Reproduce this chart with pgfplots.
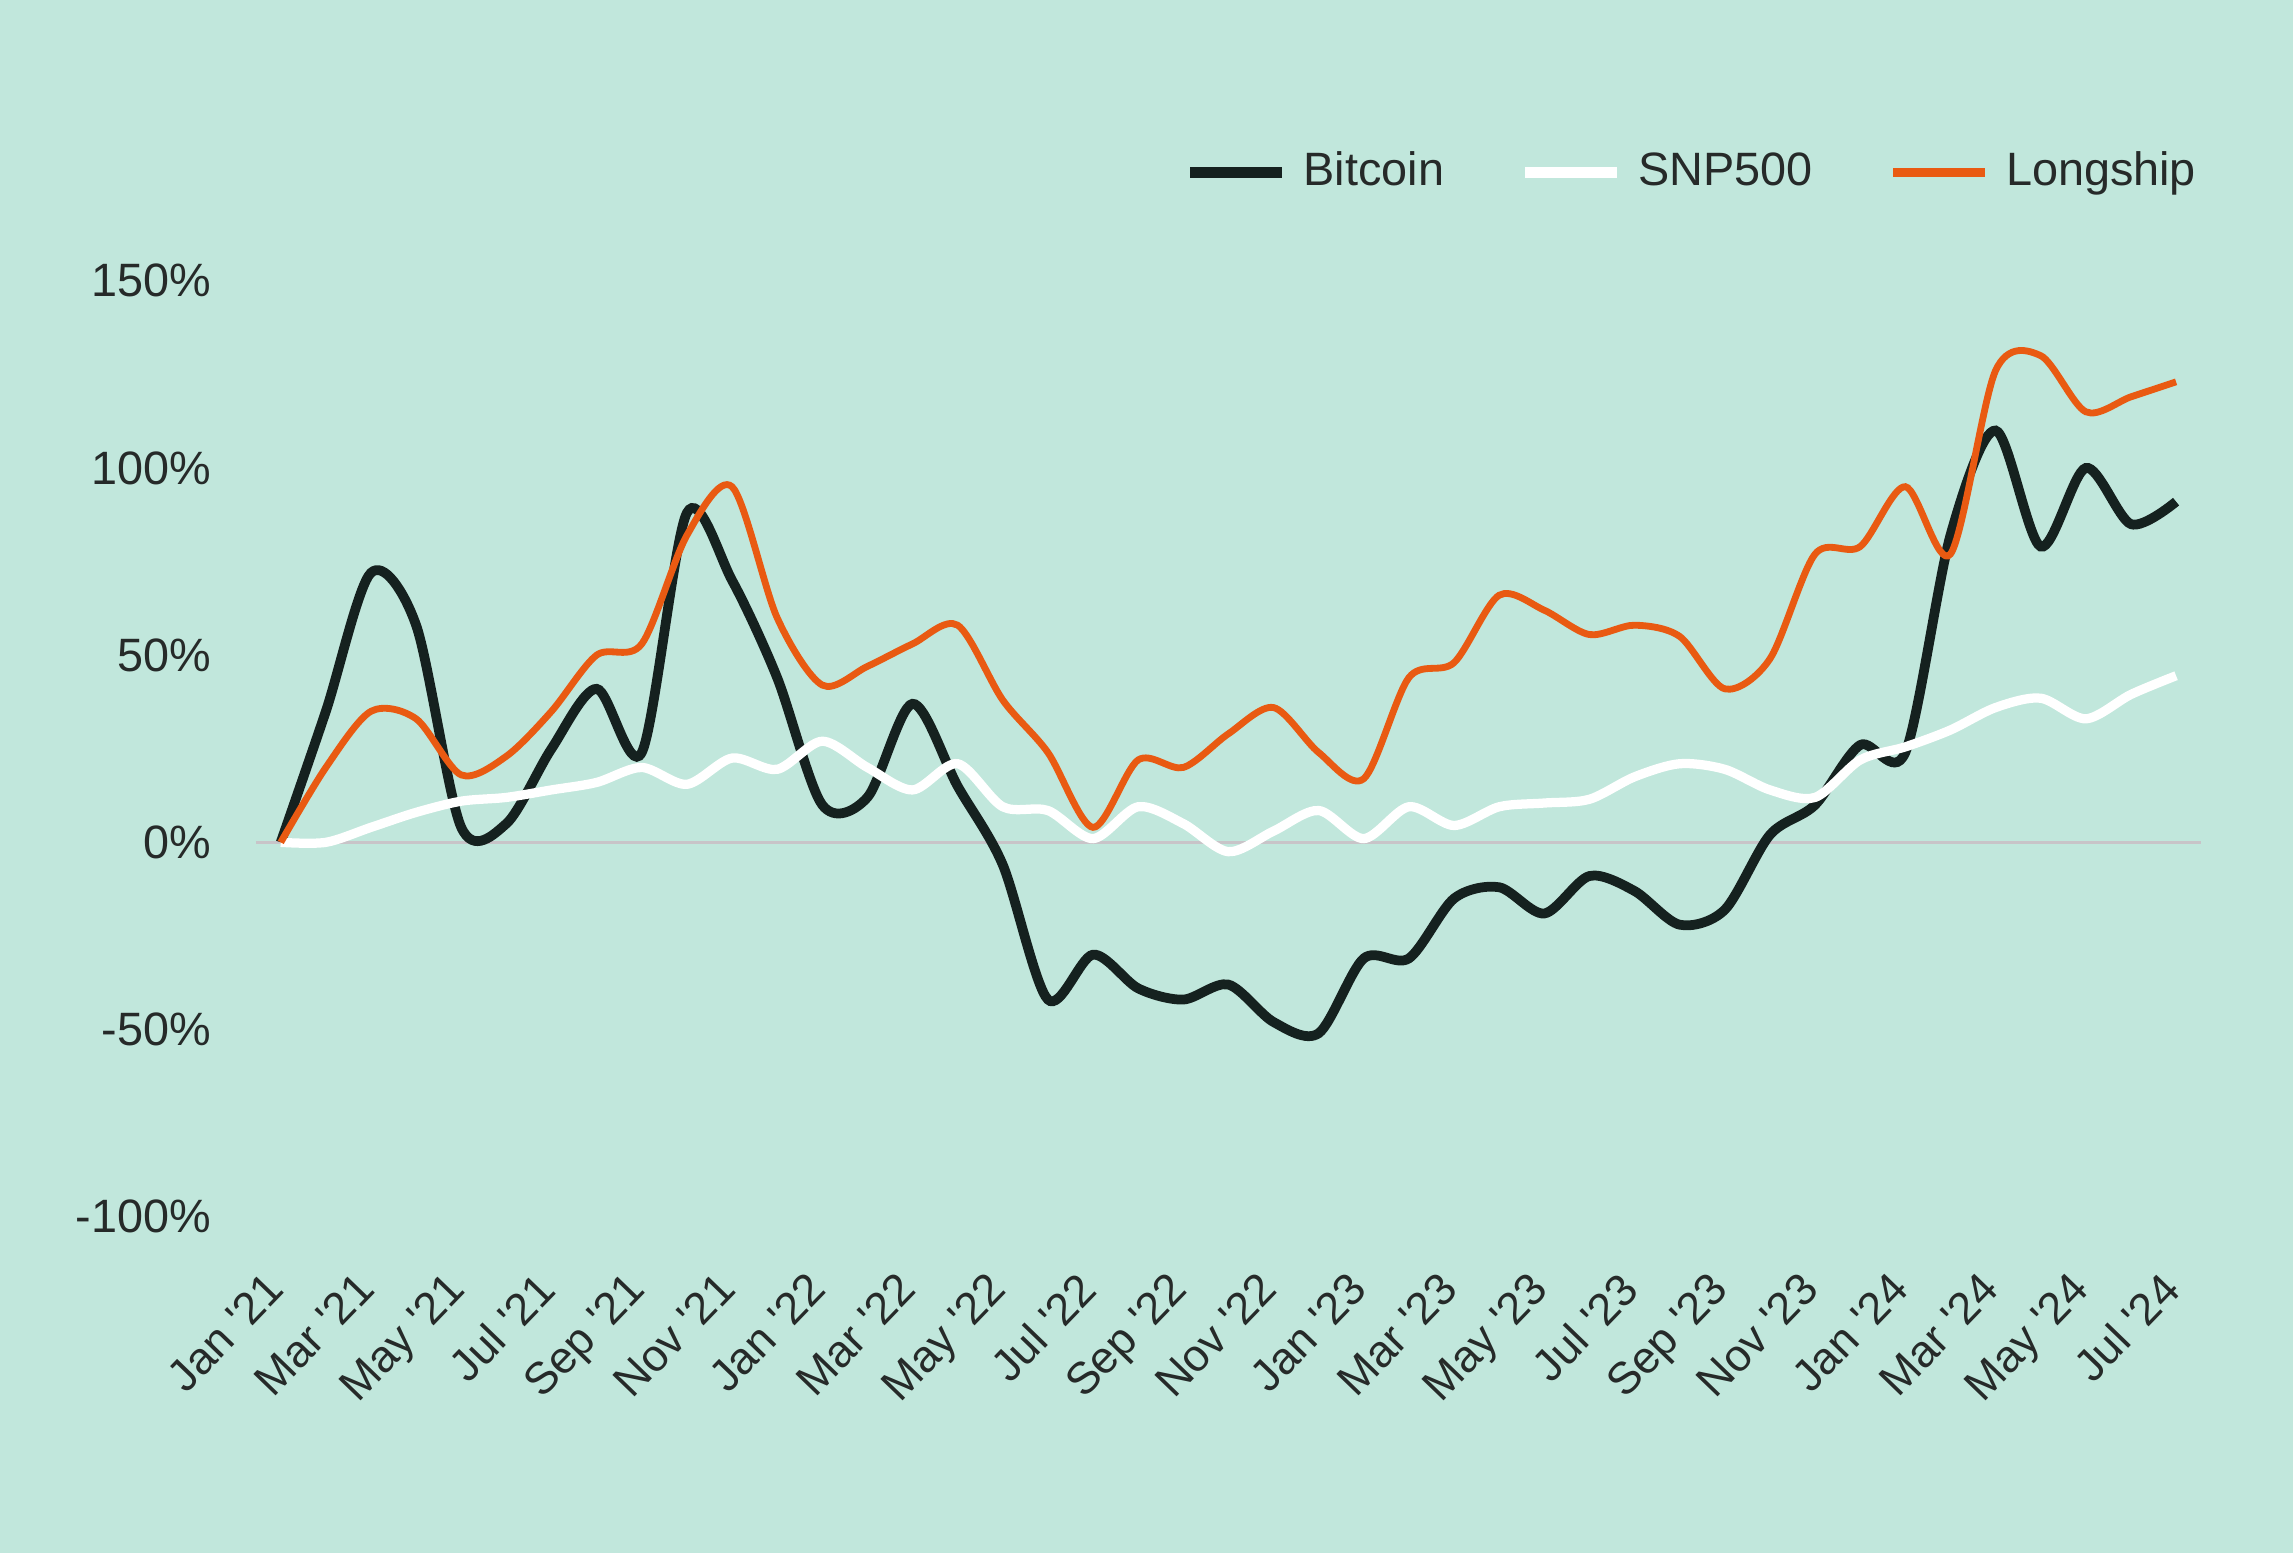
\documentclass[border=0pt]{standalone}
\usepackage{pgfplots}
\usepackage{pgfplotstable}
\pgfplotsset{compat=1.18}
\usepackage{fontspec}
\setmainfont{Liberation Sans}
\definecolor{bg}{RGB}{193,231,220}
\definecolor{btc}{RGB}{21,33,31}
\definecolor{lship}{RGB}{233,90,18}
\definecolor{zline}{RGB}{200,196,200}
\definecolor{txt}{RGB}{38,42,41}
\newcommand{\ap}{\textquotesingle}

\pgfplotstableread{
i btc snp lsh
0 0 0 0
1 35 0 20
2 72 4 35
3 58 8 33
4 4 11 18
5 5 12 23
6 25 14 35
7 41 16 50
8 24 20 53
9 88 15.5 82
10 70 22.5 95
11 44 19.5 60
12 10 27 42
13 12 20 47
14 37 14 53
15 15 21 58
16 -6 9.5 38
17 -42 8.5 24
18 -30 1 4
19 -39 9.5 22
20 -42 5 20
21 -38 -2.5 29
22 -48 3 36
23 -51 8.5 24
24 -31 1 17
25 -31 9.5 44
26 -15 4.5 48
27 -12 9.5 66
28 -19 10.5 62
29 -9 11.5 55.5
30 -13 17.5 58
31 -22 21 55
32 -18 19.5 41
33 2 14 49
34 10 12 77
35 26 22 79
36 24 25.5 95
37 82 30 77
38 110 36 126
39 79 38.5 130
40 100 33 115
41 85 39.5 119
42 91 44.5 123
}\data

\begin{document}
\begin{tikzpicture}
\fill[bg] (-52.5pt,-69pt) rectangle (417.9pt,249.6pt);
\useasboundingbox (-52.5pt,-69pt) rectangle (417.9pt,249.6pt);
\begin{axis}[
  scale only axis, width=399pt, height=192pt,
  xmin=-0.55, xmax=42.55, ymin=-100, ymax=150,
  axis line style={draw=none},
  major tick length=0pt, tick style={draw=none},
  ytick={-100,-50,0,50,100,150},
  yticklabels={-100\%,-50\%,0\%,50\%,100\%,150\%},
  xtick={0,2,...,42},
  xticklabels={Jan \ap21,Mar \ap21,May \ap21,Jul \ap21,Sep \ap21,Nov \ap21,
    Jan \ap22,Mar \ap22,May \ap22,Jul \ap22,Sep \ap22,Nov \ap22,
    Jan \ap23,Mar \ap23,May \ap23,Jul \ap23,Sep \ap23,Nov \ap23,
    Jan \ap24,Mar \ap24,May \ap24,Jul \ap24},
  every tick label/.append style={text=txt},
  yticklabel style={font=\fontsize{9.6pt}{11pt}\selectfont, anchor=east, inner sep=0pt, xshift=-9pt},
  xticklabel style={font=\fontsize{9.2pt}{11pt}\selectfont, xshift=-3.5pt, yshift=-10.6pt, rotate=46, anchor=north east, inner sep=0pt},
  legend columns=3,
  legend style={at={(1,1)}, anchor=east, xshift=-1pt, yshift=22.2pt,
    draw=none, fill=none, inner sep=0pt, outer sep=0pt,
    font=\fontsize{9.6pt}{11pt}\selectfont, text=txt,
    nodes={inner sep=0pt},
    /tikz/every odd column/.append style={column sep=3.3pt},
    /tikz/every even column/.append style={column sep=15.5pt}},
  legend image code/.code={\draw[#1] (0pt,0pt) -- (18.9pt,0pt);},
]
\addplot[zline, line width=0.6pt, forget plot] coordinates {(-0.55,0) (42.55,0)};
\addplot[btc, line width=2.0pt, smooth, tension=0.5, legend image post style={line width=2.2pt}] table[x=i, y=btc] {\data};
\addlegendentry{Bitcoin}
\addplot[white, line width=1.9pt, smooth, tension=0.5, legend image post style={line width=2.2pt}] table[x=i, y=snp] {\data};
\addlegendentry{SNP500}
\addplot[lship, line width=1.4pt, smooth, tension=0.5, legend image post style={line width=1.9pt}] table[x=i, y=lsh] {\data};
\addlegendentry{Longship}
\end{axis}
\end{tikzpicture}
\end{document}
